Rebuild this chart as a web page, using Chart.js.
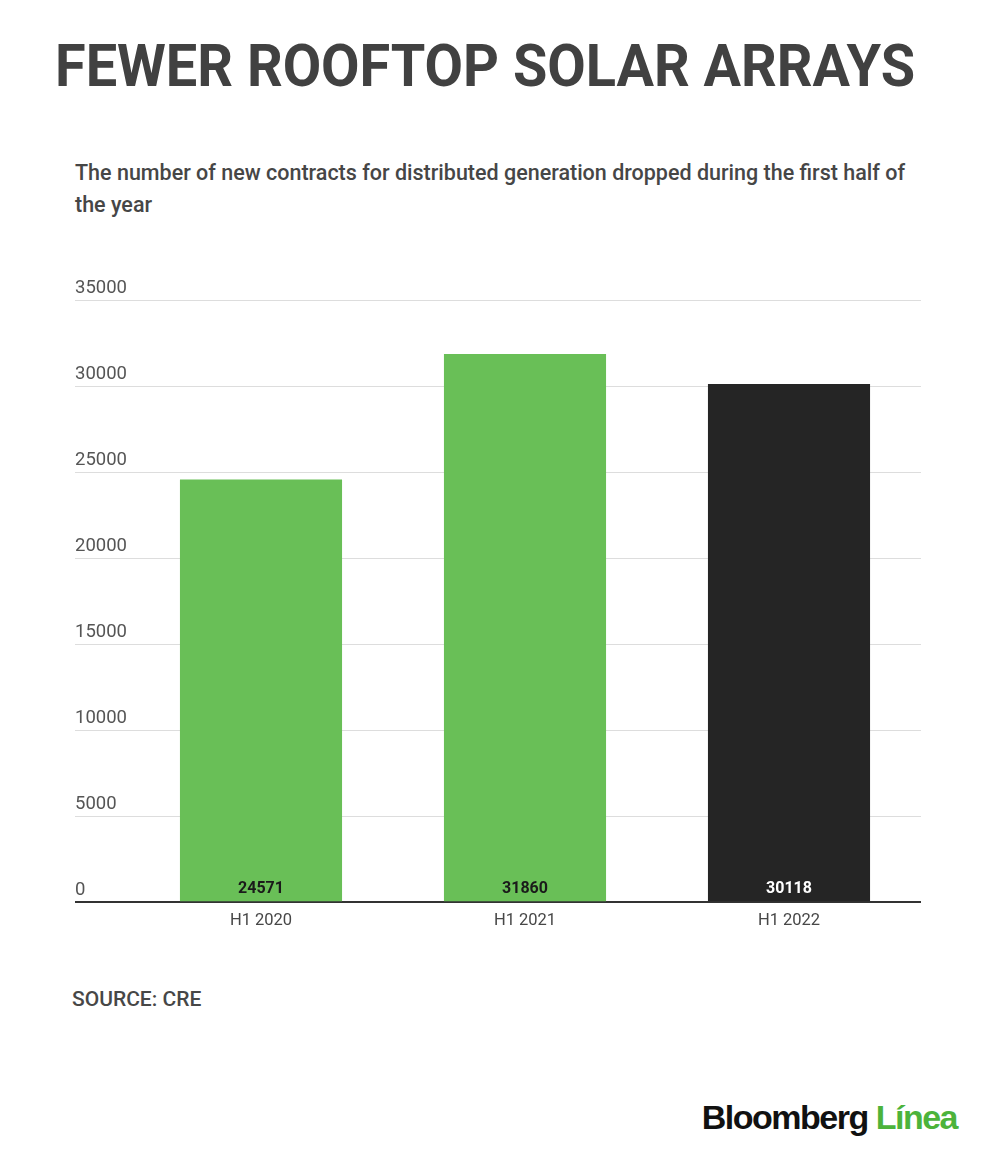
<!DOCTYPE html>
<html>
<head>
<meta charset="utf-8">
<script src="https://cdn.jsdelivr.net/npm/chart.js@4"></script>
<style>
  body { margin: 0; background: #fff; width: 1000px; height: 1164px; position: relative; overflow: hidden; font-family: Roboto, sans-serif; }
  #title { position: absolute; left: 55px; top: 36px; font-size: 60px; line-height: 60px; font-weight: 700; color: #414141; white-space: nowrap; transform-origin: left top; }
  #subtitle { position: absolute; left: 75px; top: 157px; width: 845px; font-size: 21.5px; line-height: 32px; font-weight: 500; color: #464646; }
  #source { position: absolute; left: 72px; top: 987px; font-size: 21px; font-weight: 500; color: #474747; }
  #logo { position: absolute; right: 43px; top: 1098px; font-family: "Liberation Sans", Arial, sans-serif; font-weight: 700; font-size: 34px; letter-spacing: -1.5px; white-space: nowrap; }
  #logo .green { color: #4cb33b; }
  .chart-box { position: absolute; left: 0; top: 280px; width: 1000px; height: 662px; }
</style>
</head>
<body>
<div id="title">FEWER ROOFTOP SOLAR ARRAYS</div>
<div id="subtitle">The number of new contracts for distributed generation dropped during the first half of the year</div>
<div class="chart-box"><canvas id="solar-chart"></canvas></div>
<div id="source">SOURCE: CRE</div>
<div id="logo"><span style="color:#111">Bloomberg</span> <span class="green">Línea</span></div>
<script>
const periods = ['H1 2020', 'H1 2021', 'H1 2022'];
const contracts = [24571, 31860, 30118];
const yTicks = [0, 5000, 10000, 15000, 20000, 25000, 30000, 35000];

const barColors = ['#69bf57', '#69bf57', '#252525'];
const labelColors = ['#1a1a1a', '#1a1a1a', '#ffffff'];

document.addEventListener("DOMContentLoaded", () => {
    // squeeze the title to the width of the original
    const title = document.getElementById('title');
    const w = title.getBoundingClientRect().width;
    title.style.transform = `scaleX(${860 / w})`;

    // numbers written at the foot of each bar
    const valueLabels = {
        id: 'valueLabels',
        afterDatasetsDraw(chart) {
            const ctx = chart.ctx;
            const meta = chart.getDatasetMeta(0);
            ctx.save();
            ctx.font = '700 16px Roboto';
            ctx.textAlign = 'center';
            ctx.textBaseline = 'alphabetic';
            meta.data.forEach((bar, i) => {
                ctx.fillStyle = labelColors[i];
                ctx.fillText(String(contracts[i]), bar.x, bar.base - 8);
            });
            ctx.restore();
        }
    };

    const ctx = document.getElementById('solar-chart').getContext('2d');
    new Chart(ctx, {
        type: 'bar',
        data: {
            labels: periods,
            datasets: [{
                data: contracts,
                backgroundColor: barColors,
                borderWidth: 0,
                barPercentage: 0.614,
                categoryPercentage: 1
            }]
        },
        options: {
            responsive: true,
            maintainAspectRatio: false,
            animation: false,
            layout: { padding: { left: 75, right: 79, top: 20, bottom: 10 } },
            plugins: { legend: { display: false }, tooltip: { enabled: false } },
            scales: {
                x: {
                    grid: { display: false },
                    border: { display: false },
                    ticks: { color: '#474747', font: { family: 'Roboto', size: 16.5 }, padding: 1 }
                },
                y: {
                    min: 0,
                    max: 35000,
                    afterBuildTicks: (scale) => { scale.ticks = yTicks.map(v => ({ value: v })); },
                    afterFit: (scale) => { scale.width = 54; },
                    border: { display: false },
                    grid: {
                        color: (c) => c.tick && c.tick.value === 0 ? '#333333' : '#dddddd',
                        lineWidth: (c) => c.tick && c.tick.value === 0 ? 2 : 1,
                        drawTicks: true,
                        tickLength: 54
                    },
                    ticks: {
                        crossAlign: 'far',
                        labelOffset: -12,
                        padding: 0,
                        color: '#555555',
                        font: { family: 'Roboto', size: 18.5 },
                        callback: (v) => String(v)
                    }
                }
            }
        },
        plugins: [valueLabels]
    });
});
</script>
</body>
</html>
